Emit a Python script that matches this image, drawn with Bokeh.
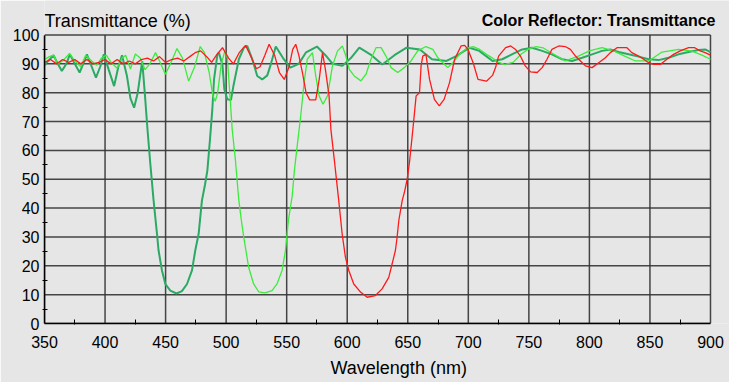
from bokeh.plotting import figure
from bokeh.models import Range1d, FixedTicker, Label, Title
from bokeh.embed import file_html
from bokeh.resources import INLINE

# ---- data ----
x_ticks = [350, 400, 450, 500, 550, 600, 650, 700, 750, 800, 850, 900]
x_minor = [375, 425, 475, 525, 575, 625, 675, 725, 775, 825, 875]
y_ticks = [0, 10, 20, 30, 40, 50, 60, 70, 80, 90, 100]
y_minor = [5, 15, 25, 35, 45, 55, 65, 75, 85, 95]
x_lo, x_hi = 350, 900
y_lo, y_hi = 0, 100

red_nm = [350, 355, 360, 365, 370, 375, 380, 385, 390, 395, 400, 405, 410, 415, 420, 425, 430, 435, 440, 445,
          450, 455, 460, 465, 470, 475, 479, 485, 488, 492, 497, 502, 506, 511, 516, 520, 525, 528, 532, 535.5,
          540, 544, 548, 552, 555, 557.5, 560, 563, 566, 569, 574, 577, 579.6, 582, 585, 586.5, 589, 593, 595.8,
          598.5, 601.3, 605.4, 611, 616.4, 623.3, 628.8, 634.3, 637.1, 639.8, 641.2, 642.6, 645.4, 647.5, 649.5,
          651.4, 654, 656.9, 659.7, 661, 662.4, 665, 668, 672, 676, 680, 684.5, 688.7, 694, 697, 699.7, 704, 708,
          715, 720, 722.5, 725, 730.8, 735, 739, 743, 747, 751.4, 756.9, 761, 765, 769, 774.7, 780, 784.3, 788.5,
          792.6, 796.7, 802.2, 807.7, 813.2, 817.3, 822.8, 831, 835, 840.7, 844.8, 849, 853, 858.5, 864, 869.5,
          875, 881.9, 887, 891.5, 895.6, 900]
red_t = [90.5, 91.5, 90, 91.5, 90.5, 91.5, 90, 91.5, 90, 90.5, 91.5, 90, 91.5, 90, 91, 90, 91.5, 92, 91, 92.5,
         90.5, 91.5, 92, 91, 92.5, 94, 94.5, 92, 90.5, 93, 95.6, 92, 90, 94, 96.4, 93, 88.3, 89, 93, 96.8,
         93, 87, 84.6, 89, 95, 96.8, 93, 87, 80, 77.5, 77.5, 85, 93.9, 88, 78.9, 67.3, 58, 42.6, 31.1,
         23, 18.4, 13.7, 10.9, 9.1, 9.7, 12, 16, 20.7, 25.3, 29.9, 35.7, 42.6, 46, 50,
         55.8, 66.4, 78.9, 80, 89.3, 92.7, 93.3, 84.6, 77.7, 75.4, 77.7, 83.5, 91.6, 96.2, 96.4, 95, 90.4, 84.6,
         84, 86, 88.7, 92.7, 95.6, 96.2, 95, 92.7, 89.3, 87.2, 87, 88.7, 91.6, 95, 96.2, 96, 95, 92.7,
         91, 89.3, 88.7, 90.4, 92.1, 93.9, 95.6, 95.6, 93.9, 92.7, 91.6, 90.4, 89.8, 89.8, 91.6, 93.3,
         94.5, 95.6, 95.6, 94.5, 93.9, 93]

blue_nm = [350, 353, 357.5, 361, 364.3, 368, 371, 375, 379, 382, 385, 389, 392.5, 396, 399, 403, 407.5, 411, 414,
           418, 421, 424, 427, 430.7, 433, 435, 437.3, 440, 442.9, 444.2, 447, 449.8, 453.9, 459, 463.5, 467.7,
           471.8, 474.5, 477.3, 480, 482.5, 484.5, 486.7, 488.6, 490, 492.8, 494, 497, 498.5, 501, 504, 506,
           510.5, 514.7, 517.4, 521.6, 525.7, 529.8, 534, 537, 541, 547, 553, 560, 566, 575, 582, 588, 596, 603,
           610, 620, 629, 639, 649, 660, 670, 682, 690, 701, 709, 720, 728, 736, 744.5, 752.7, 761, 769, 777.5,
           785.7, 794, 802.2, 810.4, 817.3, 824.2, 832.4, 840.7, 849, 857, 865.4, 873.6, 881.9, 890, 895.6, 900]
blue_t = [89.5, 91, 93, 90, 87.5, 90, 93.3, 90, 87, 90, 93.3, 89, 85.2, 89, 93.3, 88, 82.3, 89, 93,
          86, 78, 74.8, 80, 91, 78.9, 67.5, 55.8, 43, 31.1, 25.3, 18.4, 13.7, 11.4, 10.4, 11.2, 13.7,
          18.4, 25.3, 31.1, 42.6, 48, 53, 64, 74.2, 84.6, 93.3, 93.9, 89.5, 81.2, 77.7, 77.5, 82.3,
          91.6, 95.6, 96.2, 91.6, 85.8, 84.6, 86, 90, 96, 92, 88.7, 90, 94, 96, 93, 90, 89.3, 92,
          95.6, 93, 89.8, 93, 95.6, 95, 91.6, 91, 92.7, 95.6, 94.5, 91, 91.6, 93.3, 95, 95.6, 94.5, 93.3, 91.6,
          91, 92.1, 93.3, 94.5, 95, 94.1, 93.3, 92.5, 91.6, 91.3, 92.1, 93.3, 94.1, 94.8, 95, 94.1]

green_nm = [350, 354, 357.5, 361, 365, 370.7, 375, 380, 384, 389, 393, 397, 401, 405, 410, 414, 417, 421, 425,
            429, 433, 437, 441.7, 445, 449.8, 454, 459.4, 464, 469, 474, 478.6, 482, 486, 489, 491, 493, 496,
            499, 501, 503, 505, 507.6, 510.4, 512.5, 514.5, 518.6, 522.7, 526.9, 532, 537.9, 542, 546.2, 549,
            551.5, 554.5, 556.5, 559, 561.6, 564.4, 567, 571.3, 574, 576.8, 580, 583.7, 587.8, 592, 596, 598.9,
            601.7, 605.8, 611.3, 615.5, 619.6, 623.8, 628, 632, 636.2, 641.7, 647.2, 652.7, 658.2, 665, 670.7,
            674.9, 679, 683, 687.3, 692.8, 698.3, 703.9, 709.4, 715, 720, 725, 730, 737, 744, 750, 756, 762, 770,
            780, 790, 800, 810.4, 820, 830, 838, 849, 860, 873.6, 884.6, 893, 900]
green_t = [91.5, 92.5, 93, 90, 91, 93.6, 91, 89, 93, 91, 89.5, 92, 93, 90.5, 88.5, 92, 93, 88.2, 93.4,
           92, 88, 90, 93.9, 91, 86.4, 90, 95.3, 92, 84, 89, 96, 94, 87, 79, 77, 80, 90,
           94.5, 92, 80, 67.3, 57, 43, 36, 30, 19.5, 13.7, 11, 10.6, 11.4, 13.7, 18.4, 25.3,
           36, 44, 53.5, 62.7, 72, 83.5, 91.6, 93.9, 85.8, 78.9, 76, 78.9, 89.3, 94.5, 96.2, 92.7,
           88.1, 85.8, 84.1, 86.4, 91.6, 95.6, 95.6, 92.7, 88.7, 87, 88.7, 91, 94.5, 96, 95,
           92.1, 90.4, 88.7, 90.4, 93.3, 95.3, 96, 95, 93.3, 92, 90.5, 89.8, 90.5, 93.5, 95.2, 96, 95.5, 93.5,
           91, 92.5, 94.5, 95.6, 94.5, 92.5, 91, 91, 94.1, 95, 94.4, 93, 91.6]

BG = "#e6e6e6"
FONT = "Liberation Sans"
GRID = "#333333"

# The frame reaches the top and right edges of the canvas (the background is
# the same colour everywhere), so the header texts can sit inside it.
p = figure(width=729, height=382, output_backend="svg", toolbar_location=None,
           x_range=Range1d(350, 915.7), y_range=Range1d(0, 111.96),
           background_fill_color=BG, border_fill_color=BG,
           min_border_left=44, min_border_right=0, min_border_top=0, min_border_bottom=59)
p.outline_line_color = None
p.title.visible = False
p.xgrid.visible = False
p.ygrid.visible = False

p.add_layout(Title(text="Wavelength (nm)", align="left", offset=286, text_font=FONT,
                   text_font_size="18px", text_font_style="normal", text_color="black",
                   text_baseline="alphabetic", standoff=10), "below")

for ax in (p.xaxis[0], p.yaxis[0]):
    ax.axis_line_color = "black"
    ax.axis_line_width = 1.5
    ax.major_tick_line_color = "black"
    ax.minor_tick_line_color = "black"
    ax.major_tick_in = 0
    ax.major_tick_out = 0
    ax.major_label_text_font = FONT
    ax.major_label_text_font_size = "16px"
    ax.major_label_text_color = "black"

p.xaxis.bounds = (x_lo, x_hi)
p.yaxis.bounds = (y_lo, y_hi)
p.xaxis.ticker = FixedTicker(ticks=x_ticks, minor_ticks=x_minor)
p.yaxis.ticker = FixedTicker(ticks=y_ticks, minor_ticks=y_minor)
p.xaxis.minor_tick_in = 4
p.xaxis.minor_tick_out = 1
p.yaxis.minor_tick_in = 3
p.yaxis.minor_tick_out = 2
p.xaxis.major_label_standoff = 11
p.yaxis.major_label_standoff = 3

# grid lines (drawn from the tick lists, limited to the data box)
p.segment(x0=x_ticks, y0=[y_lo] * len(x_ticks), x1=x_ticks, y1=[y_hi] * len(x_ticks),
          line_color=GRID, line_width=1.5, line_alpha=0.9)
p.segment(x0=[x_lo] * len(y_ticks), y0=y_ticks, x1=[x_hi] * len(y_ticks), y1=y_ticks,
          line_color=GRID, line_width=1.5, line_alpha=0.9)

p.line(blue_nm, blue_t, line_color="#2aaa64", line_width=2)
p.line(green_nm, green_t, line_color="#3cec3c", line_width=1.3)
p.line(red_nm, red_t, line_color="#ff1a1a", line_width=1.3)

p.add_layout(Label(x=x_lo, y=y_hi, x_offset=0, y_offset=14, text="Transmittance (%)",
                   text_font=FONT, text_font_size="18px", text_color="black",
                   text_baseline="alphabetic", text_align="left"))
p.add_layout(Label(x=x_hi, y=y_hi, x_offset=5, y_offset=14.5, text="Color Reflector: Transmittance",
                   text_font=FONT, text_font_style="bold", text_font_size="16px", text_color="black",
                   text_baseline="alphabetic", text_align="right"))

open("out.html", "w").write(file_html(p, INLINE))
